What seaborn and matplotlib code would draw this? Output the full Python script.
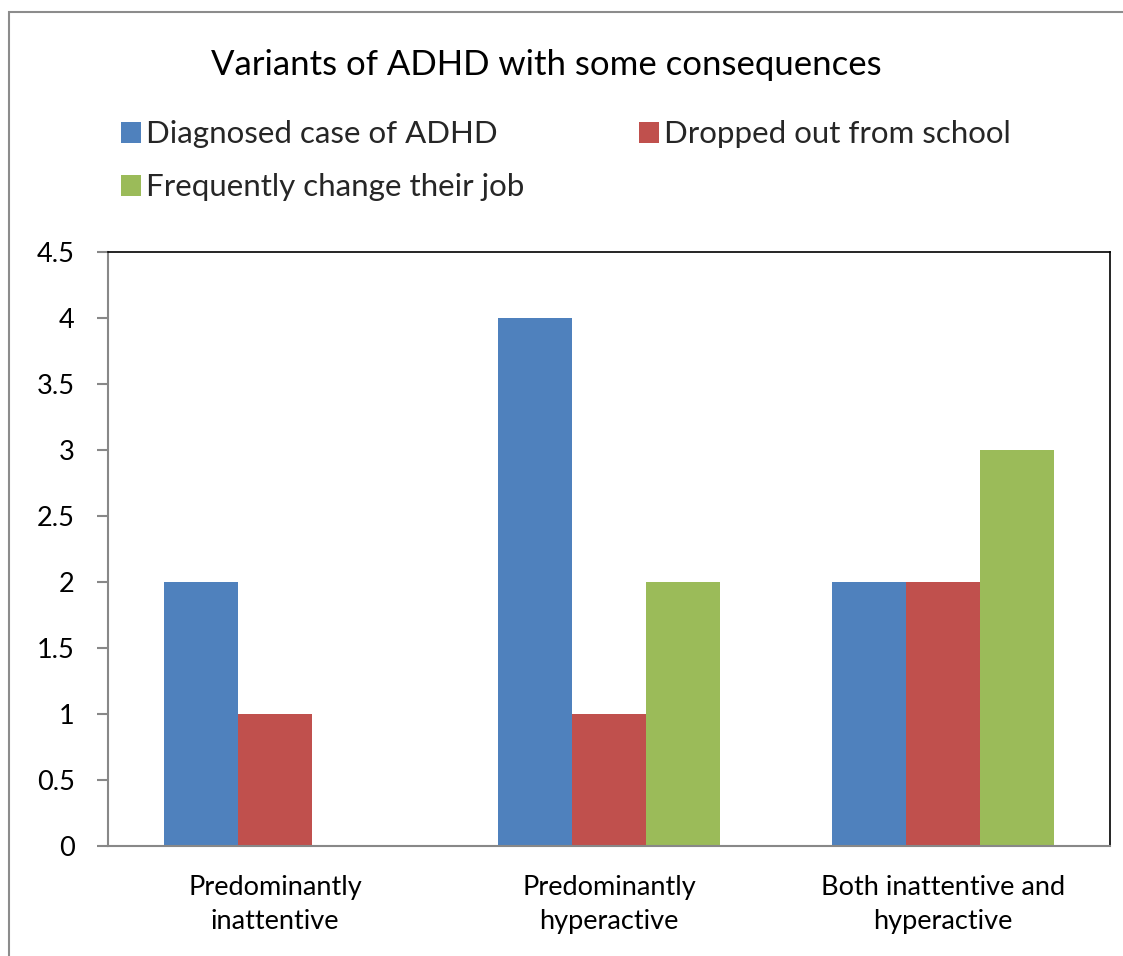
import matplotlib
matplotlib.use("Agg")
import matplotlib.pyplot as plt
import matplotlib.patches as mpatches
import seaborn as sns
import pandas as pd

categories = ["Predominantly\ninattentive", "Predominantly\nhyperactive", "Both inattentive and\nhyperactive"]
series_names = ["Diagnosed case of ADHD", "Dropped out from school", "Frequently change their job"]
diagnosed = [2, 4, 2]
dropped = [1, 1, 2]
job_change = [0, 2, 3]
colors = ["#4F81BD", "#C0504D", "#9BBB59"]
yticks = [0, 0.5, 1, 1.5, 2, 2.5, 3, 3.5, 4, 4.5]
title = "Variants of ADHD with some consequences"

rows = []
for name, vals in zip(series_names, [diagnosed, dropped, job_change]):
    for c, v in zip(categories, vals):
        rows.append({"variant": c, "series": name, "value": v})
df = pd.DataFrame(rows)

sns.set_style("white")
plt.rcParams["font.family"] = ["Lato", "DejaVu Sans"]

fig = plt.figure(figsize=(11.23, 9.56), dpi=100)
ax = fig.add_axes([108/1123, 1-846/956, (1110-108)/1123, (846-252)/956])

sns.barplot(data=df, x="variant", y="value", hue="series", order=categories,
            hue_order=series_names, palette=colors, width=0.665, gap=0,
            saturation=1, linewidth=0, ax=ax, legend=False)

ax.set_xlim(-0.5, 2.5)
ax.set_ylim(0, 4.5)
ax.set_yticks(yticks)
ax.set_yticklabels([("%g" % t) for t in yticks], fontsize=19.5, color="#000000")
ax.set_xticks(range(3))
ax.set_xticklabels(categories, fontsize=19.5, color="#000000", linespacing=1.45)
ax.set_xticks([-0.5, 0.5, 1.5, 2.5], minor=True)
ax.tick_params(axis="x", which="major", length=0, pad=21)
ax.tick_params(axis="x", which="minor", length=9, width=1.5, color="#888888", direction="out")
ax.tick_params(axis="y", which="major", length=8, width=1.5, color="#888888", direction="out", pad=16, left=True)
ax.set_xlabel("")
ax.set_ylabel("")
for side in ["left", "bottom"]:
    ax.spines[side].set_color("#888888")
    ax.spines[side].set_linewidth(1.5)
for side in ["top", "right"]:
    ax.spines[side].set_color("#000000")
    ax.spines[side].set_linewidth(1.2)
    ax.spines[side].set_visible(True)

fig.text(546/1123, 1-65/956, title, ha="center", va="center", fontsize=25, color="#000000")

handles = [mpatches.Patch(facecolor=c, edgecolor="none") for c in colors]
order = [0, 2, 1]
fig.legend([handles[i] for i in order], [series_names[i] for i in order],
           loc="upper left", bbox_to_anchor=(93/1123, 1-92/956), ncol=2,
           frameon=False, fontsize=22.5, handlelength=0.65, handleheight=0.65,
           handletextpad=0.15, columnspacing=3.65, labelspacing=0.8)

fig.patches.append(mpatches.Rectangle((9/1123, -0.1), 1.2, 1.1-12/956, transform=fig.transFigure,
                                      fill=False, edgecolor="#8c8c8c", linewidth=1.5))

fig.savefig("out.png", dpi=100)
